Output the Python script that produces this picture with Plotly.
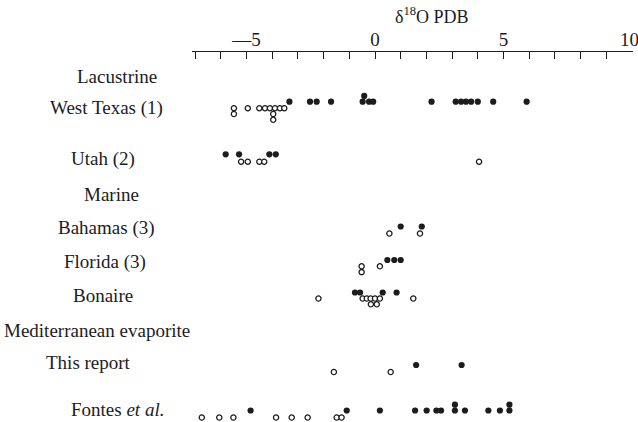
import plotly.graph_objects as go

# ---- data (delta 18O PDB, per mil) ----
rows = ["West Texas (1)", "Utah (2)", "Bahamas (3)", "Florida (3)", "Bonaire", "This report", "Fontes et al."]

west_texas_filled = [-3.33, -2.53, -2.27, -1.71, -0.48, -0.23, -0.07, -0.42, 2.2, 3.14, 3.35, 3.54, 3.74, 4.0, 4.6, 5.9]
west_texas_open = [-5.49, -5.49, -4.95, -4.50, -4.28, -4.09, -3.89, -3.70, -3.53, -3.96, -3.96]
utah_filled = [-5.81, -5.29, -4.11, -3.86]
utah_open = [-7.2, -5.21, -4.95, -4.50, -4.31, 4.05]
bahamas_filled = [1.0, 1.82]
bahamas_open = [0.56, 1.75]
florida_filled = [0.48, 0.75, 1.0]
florida_open = [-0.52, -0.52, 0.19]
bonaire_filled = [-0.78, -0.58, 0.30, 0.84]
bonaire_open = [-2.2, -0.48, -0.32, -0.17, 0.0, 0.19, -0.16, 0.07, 1.49]
report_filled = [1.6, 3.37]
report_open = [-1.6, 0.61]
fontes_filled = [-4.84, -1.10, 0.19, 1.56, 2.01, 2.39, 2.57, 3.11, 3.11, 3.50, 4.41, 4.86, 5.23, 5.23]
fontes_open = [-6.74, -6.06, -5.51, -3.85, -3.24, -2.62, -1.49, -1.30]

tick_vals = [-5, 0, 5, 10]
tick_text = ["\u20145", "0", "5", "10"]

# ---- layout (pixel-based vertical lanes) ----
W, H = 638, 422
AX_Y = 52          # axis line pixel row
X0_PX, X1_PX = 192, 632.5
PX_PER_UNIT = 25.7
ZERO_PX = 375
xr = [(X0_PX - ZERO_PX) / PX_PER_UNIT, (X1_PX - ZERO_PX) / PX_PER_UNIT]

lanes = {  # row: (filled lane, open lane) in pixel rows
    "West Texas (1)": (101.7, 108.2),
    "Utah (2)": (154.3, 161.7),
    "Bahamas (3)": (226.5, 233.5),
    "Florida (3)": (260.0, 266.3),
    "Bonaire": (292.5, 298.5),
    "This report": (365.0, 372.0),
    "Fontes et al.": (410.5, 417.5),
}
series = {
    "West Texas (1)": (west_texas_filled, west_texas_open),
    "Utah (2)": (utah_filled, utah_open),
    "Bahamas (3)": (bahamas_filled, bahamas_open),
    "Florida (3)": (florida_filled, florida_open),
    "Bonaire": (bonaire_filled, bonaire_open),
    "This report": (report_filled, report_open),
    "Fontes et al.": (fontes_filled, fontes_open),
}

STEP = 5.8


def stack_levels(values, d=0.15):
    levels, out = [], []
    for v in values:
        k = 0
        while True:
            if k >= len(levels):
                levels.append([])
            if all(abs(v - u) >= d for u in levels[k]):
                levels[k].append(v)
                out.append(k)
                break
            k += 1
    return out


fx, fy, ox, oy = [], [], [], []
for r in rows:
    filled, opened = series[r]
    lf, lo = lanes[r]
    for v, k in zip(filled, stack_levels(filled)):
        fx.append(v)
        fy.append(lf - k * STEP)
    for v, k in zip(opened, stack_levels(opened)):
        ox.append(v)
        oy.append(lo + k * STEP)

INK = "#1c1c1c"
serif = "Liberation Serif, Times New Roman, serif"
TICK_FONT = dict(family=serif, size=19, color=INK)

fig = go.Figure()
fig.add_trace(go.Scatter(x=ox, y=oy, mode="markers", cliponaxis=False,
                         marker=dict(size=5.2, color="white", line=dict(color=INK, width=1.3)),
                         showlegend=False, hoverinfo="x"))
fig.add_trace(go.Scatter(x=fx, y=fy, mode="markers", cliponaxis=False,
                         marker=dict(size=6.2, color=INK, line=dict(width=0)),
                         showlegend=False, hoverinfo="x"))

# the last tick label sits at the page edge: draw it right-aligned so it stays inside
edge_text = tick_text[-1]
axis_text = tick_text[:-1] + [""]

fig.update_layout(
    width=W, height=H, margin=dict(l=0, r=0, t=0, b=0),
    paper_bgcolor="white", plot_bgcolor="white",
    xaxis=dict(range=xr, domain=[X0_PX / W, X1_PX / W], side="top", anchor="y",
               showline=True, linecolor=INK, linewidth=1, showgrid=False, zeroline=False,
               tickmode="array", tickvals=tick_vals, ticktext=axis_text,
               ticks="inside", ticklen=7, tickwidth=1, tickcolor=INK,
               minor=dict(dtick=1, tick0=0, ticks="inside", ticklen=7, tickwidth=1, tickcolor=INK),
               tickfont=TICK_FONT, fixedrange=True, ticklabelstandoff=-3),
    yaxis=dict(range=[H, AX_Y], domain=[0, 1 - AX_Y / H], visible=False, fixedrange=True),
)


def py(p):
    return 1 - p / H


fig.add_annotation(text=edge_text, x=1.0, y=py(AX_Y), xref="paper", yref="paper",
                   xanchor="right", yanchor="bottom", yshift=1, xshift=2, borderpad=0,
                   showarrow=False, font=TICK_FONT)

labels = [
    ("Lacustrine", 117, 77),
    ("West Texas (1)", 107, 108),
    ("Utah (2)", 103, 159),
    ("Marine", 111, 194),
    ("Bahamas (3)", 106, 228),
    ("Florida (3)", 105, 262),
    ("Bonaire", 103, 295),
    ("Mediterranean evaporite", 97, 330),
    ("This report", 88, 362),
    ("Fontes <i>et al.</i>", 117, 409),
]
for t, x, y in labels:
    fig.add_annotation(text=t, x=x / W, y=py(y), xref="paper", yref="paper",
                       xanchor="center", yanchor="middle", showarrow=False,
                       font=dict(family=serif, size=19, color=INK))

fig.add_annotation(text="\u03b4<sup>18</sup>O PDB", x=432 / W, y=py(16), xref="paper", yref="paper",
                   xanchor="center", yanchor="middle", showarrow=False,
                   font=dict(family=serif, size=18, color=INK))

fig.write_html(
    "out.html", config={"displayModeBar": False},
    post_script="document.body.style.margin='0';document.body.style.padding='0';",
)
